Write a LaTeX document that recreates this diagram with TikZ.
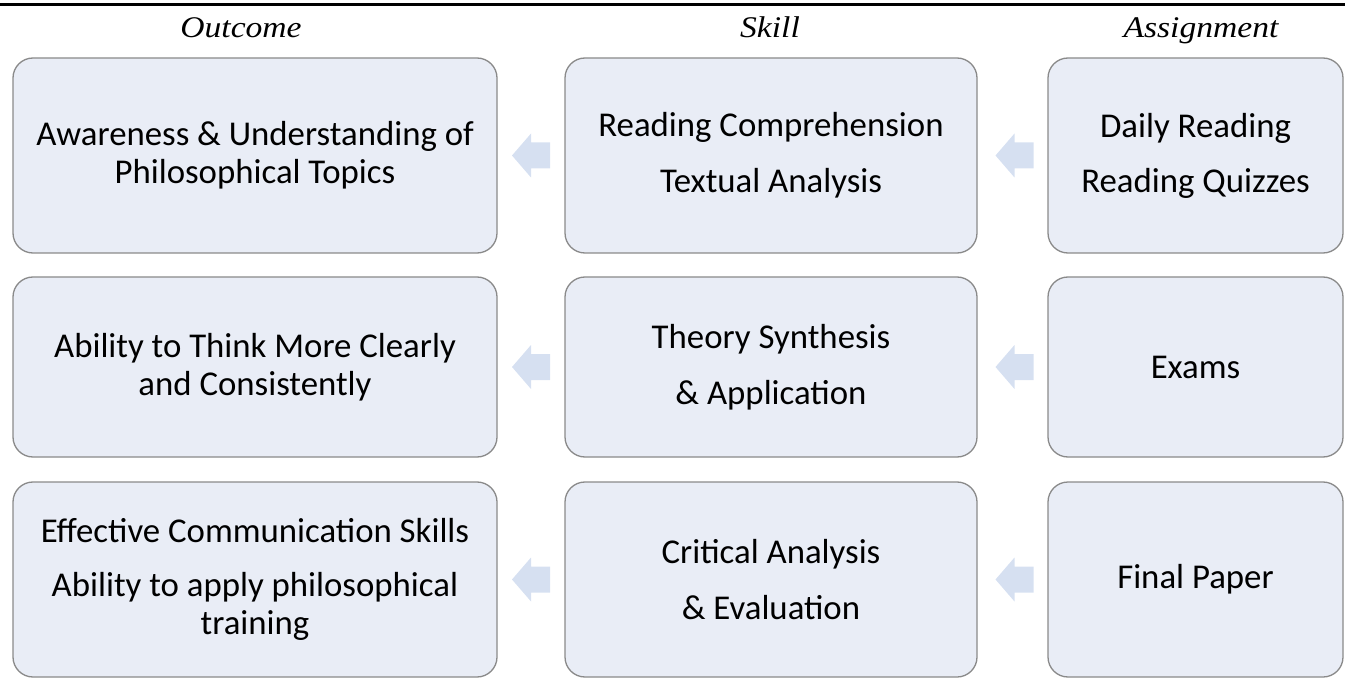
\documentclass[tikz,border=0pt]{standalone}
\usepackage{fontspec}
\setmainfont{Carlito}
\newfontfamily\headfont[FakeStretch=1.12]{Liberation Serif}
\usetikzlibrary{calc}

\definecolor{boxfill}{HTML}{E9EDF6}
\definecolor{boxline}{HTML}{8A8A8A}
\definecolor{arrowfill}{HTML}{D6E0F1}

% block arrow pointing left, centred on the given coordinate
\newcommand\leftblockarrow[1]{%
  \fill[arrowfill] ($(#1)+(-19,0)$) -- ++(19,-22) -- ++(0,9) -- ++(19,0)
    -- ++(0,26) -- ++(-19,0) -- ++(0,9) -- cycle;}

\begin{document}
\begin{tikzpicture}[x=1pt,y=-1pt,
  card/.style={draw=boxline, line width=1.3pt, fill=boxfill,
    rounded corners=20pt, inner sep=0pt, align=center,
    font=\fontsize{34.8pt}{38pt}\selectfont},
  colA/.style={card, minimum width=484pt},
  colB/.style={card, minimum width=412pt},
  colC/.style={card, minimum width=295pt},
  tall/.style={minimum height=195pt},
  short/.style={minimum height=180pt},
  head/.style={anchor=base, inner sep=0pt,
    font=\headfont\itshape\fontsize{30pt}{34pt}\selectfont}]

\useasboundingbox (0,0) rectangle (1345,679);

% rule across the top
\draw[line width=3pt] (0,5) -- (1345,5);

% column headings
\node[head] (hout) at (241,38) {Outcome};
\node[head] (hskill) at (770,38) {Skill};
\node[head] (hassign) at (1201,38) {Assignment};

% outcome column
\node[colA, tall]  (o1) at (255,155.5) {Awareness \& Understanding of\\Philosophical Topics};
\node[colA, short] (o2) at (255,367) {Ability to Think More Clearly\\and Consistently};
\node[colA, tall]  (o3) at (255,579.5) {Effective Communication Skills\\[16pt]Ability to apply philosophical\\training};

% skill column
\node[colB, tall]  (s1) at (771,155.5) {Reading Comprehension\\[18pt]Textual Analysis};
\node[colB, short] (s2) at (771,367) {Theory Synthesis\\[18pt]\& Application};
\node[colB, tall]  (s3) at (771,579.5) {Critical Analysis\\[18pt]\& Evaluation};

% assignment column
\node[colC, tall]  (a1) at (1195.5,155.5) {Daily Reading\\[17pt]Reading Quizzes};
\node[colC, short] (a2) at (1195.5,367) {Exams};
\node[colC, tall]  (a3) at (1195.5,579.5) {Final Paper};

% block arrows in the gaps
\foreach \r in {1,2,3}{
  \coordinate (gos\r) at ($(o\r.east)!0.5!(s\r.west)$);
  \coordinate (gsa\r) at ($(s\r.east)!0.5!(a\r.west)+(2,0)$);
  \leftblockarrow{gos\r}
  \leftblockarrow{gsa\r}
}
\end{tikzpicture}
\end{document}
